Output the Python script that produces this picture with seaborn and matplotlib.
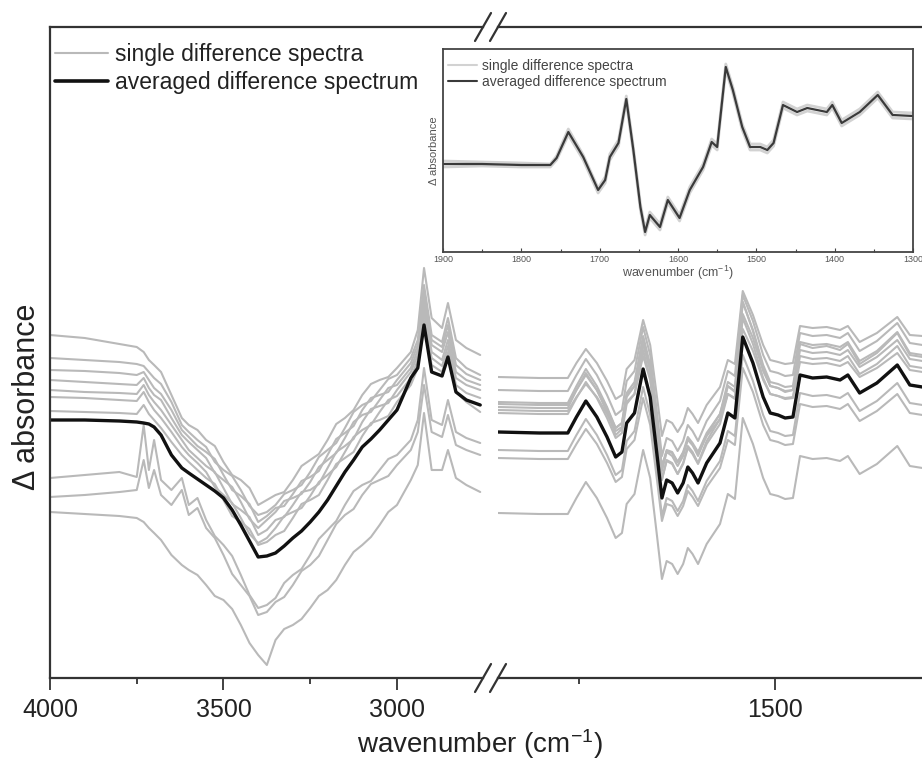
import numpy as np
import pandas as pd
import matplotlib
matplotlib.use("Agg")
import matplotlib.pyplot as plt
from matplotlib.lines import Line2D
import seaborn as sns

# ---------------- data (delta absorbance, arbitrary units) ----------------
WN_LEFT = [4000, 3900, 3800, 3750, 3730, 3715, 3700, 3680, 3650, 3620, 3600, 3575,
           3550, 3525, 3500, 3475, 3450, 3425, 3400, 3375, 3350, 3325, 3300, 3275,
           3250, 3225, 3200, 3175, 3150, 3125, 3100, 3075, 3050, 3025,
           3000, 2960, 2940, 2922, 2900, 2870, 2853, 2830, 2800, 2760]
AVG_LEFT = [0, 0, -1, -2, -3, -4, -7, -15, -35, -48, -53, -59, -65, -71, -78, -90, -105, -121,
            -137, -136, -133, -126, -118, -111, -102, -92, -80, -66, -52, -40, -27, -19, -10,
            0, 10, 42, 52, 95, 48, 44, 63, 28, 20, 15]
SINGLE_LEFT = [
    [85, 82, 76, 73, 68, 60, 55, 48, 25, 2, -5, -10, -20, -26, -42, -55, -60, -68, -85, -80,
     -75, -72, -60, -46, -40, -34, -20, -4, 2, 10, 25, 36, 40, 43, 52, 68, 90, 152, 102, 92,
     117, 80, 72, 65],
    [62, 60, 58, 56, 54, 48, 42, 36, 18, -5, -12, -20, -27, -42, -50, -56, -70, -86, -95, -92,
     -85, -74, -70, -65, -52, -37, -30, -23, -8, 8, 15, 19, 30, 41, 45, 62, 80, 135, 85, 78,
     102, 62, 52, 45],
    [50, 49, 47, 45, 48, 40, 32, 26, 10, -10, -17, -26, -32, -39, -55, -70, -76, -84, -102, -96,
     -88, -86, -74, -61, -57, -51, -35, -19, -13, -6, 10, 22, 25, 28, 40, 57, 75, 128, 80, 73,
     95, 55, 46, 40],
    [40, 38, 36, 35, 42, 32, 25, 20, 2, -15, -22, -30, -38, -53, -60, -67, -82, -99, -108, -100,
     -92, -81, -78, -74, -62, -47, -40, -33, -18, -2, 5, 8, 20, 32, 35, 52, 70, 122, 75, 68,
     88, 48, 40, 35],
    [30, 28, 27, 26, 35, 25, 18, 10, -5, -20, -30, -38, -46, -52, -68, -84, -90, -97, -115, -110,
     -100, -97, -85, -72, -70, -64, -48, -32, -26, -19, -2, 11, 14, 17, 30, 48, 65, 115, 68,
     60, 80, 42, 35, 30],
    [23, 22, 20, 19, 28, 18, 10, 2, -12, -27, -35, -43, -52, -67, -75, -83, -98, -114, -123,
     -118, -108, -96, -92, -88, -76, -62, -55, -47, -32, -17, -10, -5, 8, 20, 24, 42, 60, 108,
     62, 54, 74, 35, 27, 22],
    [9, 8, 7, 6, 15, 6, 0, -8, -22, -35, -42, -50, -58, -64, -80, -96, -102, -109, -125, -122,
     -115, -111, -98, -84, -80, -75, -60, -44, -38, -32, -16, -3, 0, 4, 18, 35, 52, 100, 55,
     48, 68, 28, 18, 8],
    [-58, -55, -52, -57, -5, -50, -20, -60, -70, -58, -85, -78, -100, -116, -125, -136, -155,
     -175, -188, -185, -178, -163, -155, -149, -135, -119, -110, -101, -85, -71, -65, -61, -50,
     -39, -35, -20, 0, 52, 0, -5, 20, -12, -18, -23],
    [-77, -75, -72, -70, -40, -68, -50, -75, -85, -70, -95, -88, -108, -118, -135, -154, -165,
     -176, -195, -192, -182, -177, -165, -151, -145, -136, -120, -104, -95, -89, -75, -64, -60,
     -56, -45, -30, -12, 35, -12, -17, 5, -25, -30, -35],
    [-92, -94, -96, -98, -102, -108, -113, -120, -135, -145, -150, -155, -165, -176, -180, -189,
     -205, -223, -235, -245, -220, -209, -205, -199, -188, -176, -170, -160, -145, -132, -125,
     -117, -105, -92, -85, -60, -45, 7, -50, -50, -30, -58, -65, -72],
]

WN_RIGHT = [1853, 1800, 1764, 1753, 1741, 1727, 1714, 1703, 1695, 1689, 1679, 1668, 1659,
            1650, 1644, 1638, 1631, 1624, 1617, 1611, 1605, 1598, 1587, 1570, 1560, 1551,
            1541, 1528, 1515, 1506, 1496, 1487, 1477, 1468, 1452, 1434, 1417, 1407, 1392,
            1370, 1344, 1328, 1312]
AVG_RIGHT = [-12, -13, -13, 3, 19, 3, -17, -37, -32, -3, 7, 51, 23, -37, -78, -60, -63, -73,
             -63, -47, -53, -63, -43, -23, 7, 2, 83, 57, 23, 7, 5, 2, 3, 45, 42, 43, 40, 45,
             27, 37, 55, 35, 33]
SINGLE_RIGHT = [
    [43, 42, 42, 57, 71, 57, 39, 21, 25, 51, 60, 100, 75, 21, -16, 0, -3, -12, -3, 12, 6, -3,
     15, 33, 60, 56, 129, 105, 75, 60, 58, 56, 57, 94, 92, 93, 90, 94, 78, 87, 103, 85, 84],
    [30, 29, 29, 45, 61, 45, 25, 5, 10, 39, 49, 93, 65, 5, -36, -18, -21, -31, -21, -5, -11,
     -21, -1, 19, 49, 44, 125, 99, 65, 49, 47, 44, 45, 87, 84, 85, 82, 87, 69, 79, 97, 77, 75],
    [18, 17, 17, 34, 51, 34, 13, -8, -3, 27, 38, 84, 55, -8, -51, -32, -36, -46, -36, -19, -25,
     -36, -15, 6, 38, 33, 118, 90, 55, 38, 36, 33, 34, 78, 75, 76, 73, 78, 59, 69, 88, 67, 65],
    [16, 15, 15, 30, 45, 30, 11, -8, -3, 25, 34, 76, 49, -8, -47, -30, -32, -42, -32, -17, -23,
     -32, -13, 6, 34, 29, 106, 82, 49, 34, 32, 29, 30, 70, 67, 68, 65, 70, 53, 63, 80, 61, 59],
    [13, 12, 12, 30, 47, 30, 8, -15, -9, 23, 34, 82, 52, -15, -60, -40, -43, -54, -43, -26, -32,
     -43, -21, 1, 34, 28, 118, 89, 52, 34, 32, 28, 30, 76, 72, 74, 70, 76, 56, 67, 87, 65, 63],
    [10, 9, 9, 23, 36, 23, 6, -11, -7, 18, 26, 64, 40, -11, -46, -31, -33, -42, -33, -20, -25,
     -33, -16, 1, 26, 22, 91, 69, 40, 26, 24, 22, 23, 58, 56, 57, 54, 58, 43, 52, 67, 50, 48],
    [7, 6, 6, 22, 38, 22, 2, -18, -13, 16, 26, 70, 42, -18, -59, -41, -44, -54, -44, -28, -34,
     -44, -24, -4, 26, 21, 102, 76, 42, 26, 24, 21, 22, 64, 61, 62, 59, 64, 46, 56, 74, 54, 52],
    [-30, -31, -31, -15, 1, -15, -35, -55, -50, -21, -11, 33, 5, -55, -96, -78, -81, -91, -81,
     -65, -71, -81, -61, -41, -11, -16, 65, 39, 5, -11, -13, -16, -15, 27, 24, 25, 22, 27, 9,
     19, 37, 17, 15],
    [-38, -39, -39, -24, -9, -24, -43, -62, -57, -29, -20, 22, -5, -62, -101, -84, -86, -96,
     -86, -71, -77, -86, -67, -48, -20, -25, 52, 28, -5, -20, -22, -25, -24, 16, 13, 14, 11,
     16, -1, 9, 26, 7, 5],
    [-93, -94, -94, -78, -62, -78, -98, -118, -113, -84, -74, -30, -58, -118, -159, -141, -144,
     -154, -144, -128, -134, -144, -124, -104, -74, -79, 2, -24, -58, -74, -76, -79, -78, -36,
     -39, -38, -41, -36, -54, -44, -26, -46, -48],
]

WN_INSET = [1900, 1850, 1800, 1763, 1755, 1740, 1721, 1702, 1693, 1687, 1676, 1666, 1657,
            1648, 1642, 1636, 1623, 1613, 1598, 1585, 1568, 1557, 1550, 1539, 1530, 1518,
            1508, 1495, 1486, 1478, 1466, 1448, 1435, 1410, 1403, 1391, 1368, 1345, 1326, 1300]
AVG_INSET = [0, 0, -1, -1, 6, 32, 7, -26, -16, 7, 21, 65, 14, -43, -68, -51, -63, -36, -54,
             -26, -3, 22, 17, 97, 74, 37, 17, 17, 14, 21, 59, 52, 56, 52, 59, 41, 52, 69, 49, 48]
SINGLE_INSET = [
    [3, 2, 1, 0, 8, 35, 9, -24, -13, 10, 24, 68, 17, -40, -65, -48, -60, -33, -51, -23, 0, 25,
     20, 100, 77, 40, 20, 20, 17, 24, 62, 55, 59, 55, 62, 44, 55, 72, 52, 51],
    [-3, -2, -3, -3, 4, 29, 4, -29, -19, 4, 18, 62, 11, -46, -71, -54, -66, -39, -57, -29, -6,
     19, 14, 94, 71, 34, 14, 14, 11, 18, 56, 49, 53, 49, 56, 38, 49, 66, 46, 45],
]

LEGEND_LABELS = ["single difference spectra", "averaged difference spectrum"]


def long_df(wn, series):
    rows = []
    for k, s in enumerate(series):
        for w, v in zip(wn, s):
            rows.append({"wn": w, "val": v, "spectrum": k})
    return pd.DataFrame(rows)


left_df = long_df(WN_LEFT, SINGLE_LEFT)
right_df = long_df(WN_RIGHT, SINGLE_RIGHT)
inset_df = long_df(WN_INSET, SINGLE_INSET)

# ---------------- style ----------------
sns.set_theme(style="white")
plt.rcParams["font.family"] = ["Liberation Sans", "DejaVu Sans"]
plt.rcParams["mathtext.fontset"] = "custom"
plt.rcParams["mathtext.rm"] = "Liberation Sans"
plt.rcParams["mathtext.it"] = "Liberation Sans:italic"

GRAY = "#b9b9b9"
BLACK = "#111111"
SPINE = "#333333"
TXT = "#222222"

W, H = 922, 763
fig = plt.figure(figsize=(W / 100, H / 100), dpi=100)


def fx(px):
    return px / W


def fy(py):
    return (H - py) / H


ax1 = fig.add_axes([fx(50), fy(678), (483 - 50) / W, 651 / H])
ax2 = fig.add_axes([fx(498), fy(678), (922 - 498) / W, 651 / H])

for ax, df, wn, avg in ((ax1, left_df, WN_LEFT, AVG_LEFT), (ax2, right_df, WN_RIGHT, AVG_RIGHT)):
    sns.lineplot(data=df, x="wn", y="val", units="spectrum", estimator=None,
                 color=GRAY, lw=1.5, ax=ax, legend=False)
    sns.lineplot(x=wn, y=avg, color=BLACK, lw=2.4, ax=ax, legend=False)
    ax.set_ylim(-258, 393)
    ax.set_yticks([])
    ax.set_xlabel("")
    ax.set_ylabel("")
    ax.tick_params(axis="x", which="both", bottom=True, direction="out", width=1.3,
                   color=SPINE, labelcolor=TXT)
    ax.tick_params(axis="x", which="major", length=8.5, labelsize=18, pad=6)
    ax.tick_params(axis="x", which="minor", length=4.3)
    for sp in ax.spines.values():
        sp.set_linewidth(1.6)
        sp.set_color(SPINE)

ax1.set_xlim(4000, 2752)
ax1.set_xticks([4000, 3500, 3000])
ax1.set_xticks([3750, 3250], minor=True)
ax1.spines["right"].set_visible(False)

ax2.set_xlim(1853, 1312.5)
ax2.set_xticks([1500])
ax2.set_xticks([1750], minor=True)
ax2.spines["left"].set_visible(False)
ax2.spines["right"].set_visible(False)

# axis break marks
for cy in (27, 678):
    for cx in (483, 498):
        fig.add_artist(Line2D([fx(cx - 8), fx(cx + 8)], [fy(cy + 14), fy(cy - 14)],
                              color=SPINE, lw=1.6))

fig.text(fx(480), fy(744), "wavenumber (cm$^{-1}$)", ha="center", va="center",
         fontsize=20, color=TXT)
fig.text(fx(27), fy(397), "\u0394 absorbance", ha="center", va="center",
         rotation=90, fontsize=22, color=TXT)

handles = [Line2D([], [], color=GRAY, lw=1.5), Line2D([], [], color=BLACK, lw=2.6)]
fig.legend(handles, LEGEND_LABELS, loc="upper left", bbox_to_anchor=(fx(55), fy(43)),
           frameon=False, fontsize=16.5, handlelength=2.3, handletextpad=0.3,
           labelspacing=0.22, borderpad=0, borderaxespad=0, labelcolor=TXT)

# ---------------- inset ----------------
axi = fig.add_axes([fx(443), fy(252), (913 - 443) / W, 203 / H])
sns.lineplot(data=inset_df, x="wn", y="val", units="spectrum", estimator=None,
             color="#d2d2d2", lw=2.0, ax=axi, legend=False)
sns.lineplot(x=WN_INSET, y=AVG_INSET, color="#3a3a3a", lw=1.6, ax=axi, legend=False)
axi.set_xlim(1900, 1300)
axi.set_ylim(-88, 115)
axi.set_xticks(list(range(1900, 1299, -100)))
axi.set_xticks(list(range(1850, 1300, -100)), minor=True)
axi.set_yticks([])
axi.tick_params(axis="x", which="both", bottom=True, direction="in", width=0.8,
                color="#444444", labelcolor="#555555")
axi.tick_params(axis="x", which="major", length=3, labelsize=6.5, pad=2)
axi.tick_params(axis="x", which="minor", length=2)
for sp in axi.spines.values():
    sp.set_linewidth(1.3)
    sp.set_color("#444444")
axi.set_xlabel("wavenumber (cm$^{-1}$)", fontsize=9, labelpad=0, color="#555555")
axi.set_ylabel("\u0394 absorbance", fontsize=8, labelpad=3, color="#555555")
ih = [Line2D([], [], color="#d2d2d2", lw=1.5), Line2D([], [], color="#3a3a3a", lw=1.5)]
axi.legend(ih, LEGEND_LABELS, loc="upper left", bbox_to_anchor=(5 / 470, 1 - 10 / 203),
           frameon=False, fontsize=10, handlelength=2.1, handletextpad=0.36,
           labelspacing=0.15, borderpad=0, borderaxespad=0, labelcolor="#444444")

fig.savefig("out.png", dpi=100, facecolor="white")
